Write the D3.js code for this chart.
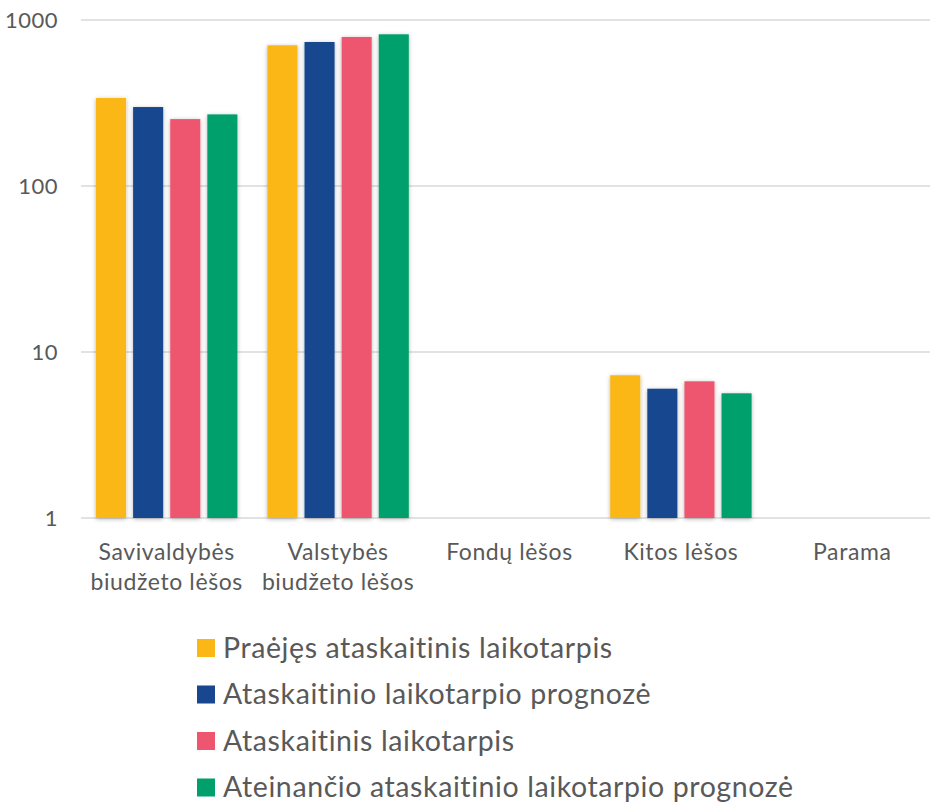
<!DOCTYPE html>
<html>
<head>
<meta charset="utf-8">
<script src="https://cdn.jsdelivr.net/npm/d3@7"></script>
<style>
  body { margin: 0; background: #fff; }
  text { font-family: Lato, 'Open Sans', sans-serif; fill: #595959; }
</style>
</head>
<body>
<div id="chart"></div>
<script>
// categories and series
const categories = [
  ['Savivaldybės', 'biudžeto lėšos'],
  ['Valstybės', 'biudžeto lėšos'],
  ['Fondų lėšos'],
  ['Kitos lėšos'],
  ['Parama']
]
const seriesNames = [
  'Praėjęs ataskaitinis laikotarpis',
  'Ataskaitinio laikotarpio prognozė',
  'Ataskaitinis laikotarpis',
  'Ateinančio ataskaitinio laikotarpio prognozė'
]
const praejes = [339, 704, null, 7.24, null]
const prognoze = [299, 737, null, 6.01, null]
const ataskaitinis = [253, 790, null, 6.66, null]
const ateinancio = [270, 820, null, 5.64, null]
const yTicks = [1, 10, 100, 1000]

const colors = ['#fbb716', '#19478f', '#ee5670', '#00a06c']
const seriesValues = [praejes, prognoze, ataskaitinis, ateinancio]

const width = 930
const height = 802

const svg = d3
  .select('#chart')
  .append('svg')
  .attr('width', width)
  .attr('height', height)

// soft shadow like the office chart
const defs = svg.append('defs')
const filter = defs
  .append('filter')
  .attr('id', 'shadow')
  .attr('x', '-30%')
  .attr('y', '-10%')
  .attr('width', '160%')
  .attr('height', '120%')
filter
  .append('feDropShadow')
  .attr('dx', 0)
  .attr('dy', 1)
  .attr('stdDeviation', 2)
  .attr('flood-color', '#000')
  .attr('flood-opacity', 0.3)

const x = d3
  .scaleBand()
  .domain(d3.range(categories.length))
  .range([81, 938])
  .paddingInner(0)
  .paddingOuter(0)

const x1 = d3
  .scaleBand()
  .domain(d3.range(seriesNames.length))
  .range([15, x.bandwidth() - 15])
  .paddingInner(0.19)
  .paddingOuter(0)

const y = d3
  .scaleLog()
  .domain([1, 1000])
  .range([518, 20])

// gridlines
svg
  .append('g')
  .selectAll('line')
  .data(yTicks)
  .enter()
  .append('line')
  .attr('x1', 81)
  .attr('x2', width)
  .attr('y1', d => y(d))
  .attr('y2', d => y(d))
  .attr('stroke', '#d9d9d9')
  .attr('stroke-width', 1.5)

// y labels
svg
  .append('g')
  .selectAll('text')
  .data(yTicks)
  .enter()
  .append('text')
  .attr('x', 58)
  .attr('y', d => y(d))
  .attr('dy', '0.35em')
  .attr('text-anchor', 'end')
  .style('font-size', '22px')
  .style('letter-spacing', '0.5px')
  .text(d => d)

// bars
const groups = svg
  .append('g')
  .selectAll('g')
  .data(categories)
  .enter()
  .append('g')
  .attr('transform', (d, i) => 'translate(' + x(i) + ',0)')

groups
  .selectAll('rect')
  .data((d, i) =>
    seriesValues.map((s, j) => ({ s: j, v: s[i] })).filter(d => d.v != null)
  )
  .enter()
  .append('rect')
  .attr('x', d => x1(d.s))
  .attr('width', x1.bandwidth())
  .attr('y', d => y(d.v))
  .attr('height', d => y(1) - y(d.v))
  .attr('fill', d => colors[d.s])
  .attr('filter', 'url(#shadow)')

// category labels
const catLabels = svg
  .append('g')
  .selectAll('text')
  .data(categories)
  .enter()
  .append('text')
  .attr('x', (d, i) => x(i) + x.bandwidth() / 2)
  .attr('y', 560)
  .attr('text-anchor', 'middle')
  .style('font-size', '23px')
  .style('letter-spacing', '0.6px')

catLabels
  .selectAll('tspan')
  .data(d => d)
  .enter()
  .append('tspan')
  .attr('x', function() {
    return d3.select(this.parentNode).attr('x')
  })
  .attr('dy', (d, i) => (i === 0 ? 0 : 30))
  .text(d => d)

// legend
const legend = svg
  .append('g')
  .selectAll('g')
  .data(seriesNames)
  .enter()
  .append('g')
  .attr('transform', (d, i) => 'translate(197,' + (648 + i * 46.5) + ')')

legend
  .append('rect')
  .attr('x', 0)
  .attr('y', -9)
  .attr('width', 18)
  .attr('height', 18)
  .attr('fill', (d, i) => colors[i])

legend
  .append('text')
  .attr('x', 26)
  .attr('y', 0)
  .attr('dy', '0.35em')
  .style('font-size', '28.5px')
  .style('letter-spacing', '0.6px')
  .text(d => d)
</script>
</body>
</html>
